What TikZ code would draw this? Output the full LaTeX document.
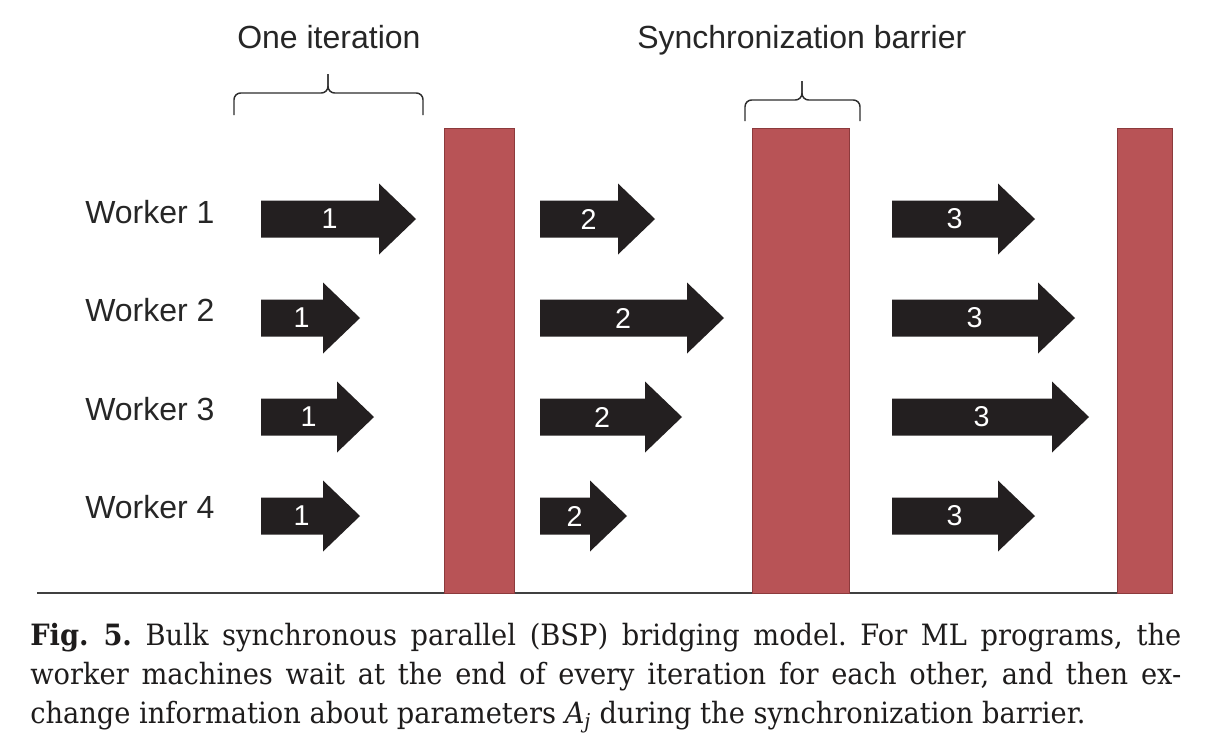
\documentclass[tikz,border=0pt]{standalone}
\usepackage{fontspec}
\setmainfont{DejaVu Serif}[FakeStretch=0.93]
\setsansfont{Liberation Sans}
\definecolor{barred}{RGB}{184,83,86}
\definecolor{bardark}{RGB}{140,58,60}
\definecolor{arrowfill}{RGB}{35,31,32}
\definecolor{textgray}{RGB}{38,38,38}
\definecolor{bracegray}{RGB}{45,45,45}
\definecolor{linegray}{RGB}{64,64,64}
\definecolor{captext}{RGB}{30,28,28}
\newcommand\wkarrow[5]{%
  \fill[arrowfill] ({#2},{#4-18.5}) -- ({#3-37},{#4-18.5}) -- ({#3-37},{#4-35.5}) -- ({#3},{#4})
     -- ({#3-37},{#4+35.5}) -- ({#3-37},{#4+18.5}) -- ({#2},{#4+18.5}) -- cycle;
  \node[arrowlabel] (#1) at ({#2+(#3-#2-18)/2},{#4}) {#5};
}
\frenchspacing
\begin{document}
\begin{tikzpicture}[x=0.75pt,y=-0.75pt,
  barstyle/.style={fill=barred, draw=bardark, line width=0.7pt},
  arrowlabel/.style={text=white, font=\sffamily\fontsize{21.5}{21.5}\selectfont, inner sep=0pt},
  worker/.style={font=\sffamily\fontsize{24}{24}\selectfont, text=textgray, anchor=base west, inner sep=0pt},
  brace/.style={draw=bracegray, line width=1.1pt, rounded corners=5pt},
  baseline/.style={draw=linegray, line width=1.3pt},
  caption/.style={font=\fontsize{22}{24}\selectfont, anchor=base west, inner sep=0pt, text=captext}]
\useasboundingbox[fill=white] (0,0) rectangle (1219,753);
% ground line
\draw[baseline] (37,593) -- (1117,593);
% barriers
\draw[barstyle] (444,128) rectangle (514,593);
\draw[barstyle] (752,128) rectangle (849,593);
\draw[barstyle] (1117,128) rectangle (1172,593);
% braces
\draw[brace] (234,115) |- (328,93) -- (328,74);
\draw[brace] (423,115) |- (328,93) -- (328,74);
\draw[brace] (745,121) |- (802,100) -- (802,81);
\draw[brace] (860,121) |- (802,100) -- (802,81);
% top labels
\node[worker] (iter) at (237,48) {One iteration};
\node[worker] (sync) at (637,48) {Synchronization barrier};
% worker labels
\node[worker] (w1) at (85,223) {Worker 1};
\node[worker] (w2) at (85,321) {Worker 2};
\node[worker] (w3) at (85,420) {Worker 3};
\node[worker] (w4) at (85,518) {Worker 4};
% arrows
\wkarrow{a11}{261}{416}{219}{1}
\wkarrow{a12}{540}{655}{219}{2}
\wkarrow{a13}{892}{1035}{219}{3}
\wkarrow{a21}{261}{360}{318}{1}
\wkarrow{a22}{540}{724}{318}{2}
\wkarrow{a23}{892}{1075}{318}{3}
\wkarrow{a31}{261}{374}{417}{1}
\wkarrow{a32}{540}{682}{417}{2}
\wkarrow{a33}{892}{1089}{417}{3}
\wkarrow{a41}{261}{360}{516}{1}
\wkarrow{a42}{540}{627}{516}{2}
\wkarrow{a43}{892}{1035}{516}{3}
% caption
\node[caption] (c1) at (30,645) {\makebox[863.25pt][s]{\textbf{Fig. 5.} Bulk synchronous parallel (BSP) bridging model. For ML programs, the}};
\node[caption] (c2) at (30,684) {\makebox[863.25pt][s]{worker machines wait at the end of every iteration for each other, and then ex-}};
\node[caption] (c3) at (30,723) {change information about parameters \textit{A}\textsubscript{\textit{j}} during the synchronization barrier.};
\end{tikzpicture}
\end{document}
